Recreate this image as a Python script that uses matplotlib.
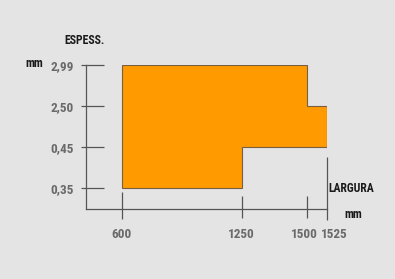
import numpy as np
import matplotlib
matplotlib.use("Agg")
import matplotlib.pyplot as plt
from matplotlib.transforms import ScaledTranslation

# valori
WIDTHS = [600, 1250, 1500, 1525]
WIDTH_LABELS = ["600", "1250", "1500", "1525"]
THICKNESSES = [0.35, 0.45, 2.50, 2.99]
THICKNESS_LABELS = ["0,35", "0,45", "2,50", "2,99"]
PROFILE_X = [600, 600, 1500, 1500, 1525, 1525, 1250, 1250]
PROFILE_Y = [0.35, 2.99, 2.99, 2.50, 2.50, 0.45, 0.45, 0.35]

# impaginazione (pixel)
W, H = 395, 279
X_LAYOUT = [0, 120, 185, 205]
Y_LAYOUT = [0, 41, 82, 123]
BG = "#e4e4e4"
ORANGE = "#ff9a00"
AXIS = "#555555"
LABEL_GREY = "#6a6a6a"
FONT = ["Roboto Condensed", "DejaVu Sans"]

plt.rcParams["font.family"] = FONT


def piecewise(v, src, dst):
    v = np.asarray(v, dtype=float)
    out = np.interp(v, src, dst)
    lo_slope = (dst[1] - dst[0]) / (src[1] - src[0])
    hi_slope = (dst[-1] - dst[-2]) / (src[-1] - src[-2])
    out = np.where(v < src[0], dst[0] + (v - src[0]) * lo_slope, out)
    out = np.where(v > src[-1], dst[-1] + (v - src[-1]) * hi_slope, out)
    return out


def fx(v):
    return piecewise(v, WIDTHS, X_LAYOUT)


def fx_inv(v):
    return piecewise(v, X_LAYOUT, WIDTHS)


def fy(v):
    return piecewise(v, THICKNESSES, Y_LAYOUT)


def fy_inv(v):
    return piecewise(v, Y_LAYOUT, THICKNESSES)


def fig_pos(x, y):
    return x / W, 1 - y / H


fig = plt.figure(figsize=(W / 100, H / 100), dpi=100, facecolor=BG)
ax_left, ax_right, ax_top, ax_bottom = 86, 327, 65, 209
ax = fig.add_axes([ax_left / W, 1 - ax_bottom / H,
                   (ax_right - ax_left) / W, (ax_bottom - ax_top) / H])
ax.set_facecolor(BG)
ax.set_xscale("function", functions=(fx, fx_inv))
ax.set_yscale("function", functions=(fy, fy_inv))
ax.set_xlim(float(fx_inv(-36)), WIDTHS[-1])
ax.set_ylim(float(fy_inv(-21)), THICKNESSES[-1])

ax.fill(PROFILE_X, PROFILE_Y, facecolor=ORANGE, edgecolor="#7a6040", linewidth=0.8, zorder=2)

for side in ["top", "right"]:
    ax.spines[side].set_visible(False)
for side in ["left", "bottom"]:
    ax.spines[side].set_color(AXIS)
    ax.spines[side].set_linewidth(0.9)

ax_w = ax_right - ax_left
ax_h = ax_bottom - ax_top

# tacche asse y
ax.hlines(THICKNESSES, -5 / ax_w, 18 / ax_w, transform=ax.get_yaxis_transform(),
          color=AXIS, linewidth=0.9, clip_on=False)
# tacche asse x (lunghezze diverse come nell'originale)
tick_up = [17, 13, 13, 52]
tick_down = [10, 9, 9, 11]
for x, up, down in zip(WIDTHS, tick_up, tick_down):
    ax.vlines(x, -down / ax_h, up / ax_h, transform=ax.get_xaxis_transform(),
              color=AXIS, linewidth=0.9, clip_on=False)

ax.set_xticks(WIDTHS, WIDTH_LABELS)
ax.set_yticks(THICKNESSES, THICKNESS_LABELS)
ax.minorticks_off()
ax.tick_params(axis="x", length=0, pad=14, labelsize=9.5, labelcolor=LABEL_GREY)
ax.tick_params(axis="y", length=0, pad=9, labelsize=9.5, labelcolor=LABEL_GREY)
for lbl in ax.get_xticklabels() + ax.get_yticklabels():
    lbl.set_fontweight("semibold")

# spostamenti orizzontali delle etichette come nell'originale
label_shift = [0, -1, -2.5, 7]
for lbl, dx in zip(ax.get_xticklabels(), label_shift):
    lbl.set_transform(lbl.get_transform() + ScaledTranslation(dx / 100, 0, fig.dpi_scale_trans))

bold = dict(fontsize=8.5, fontweight="bold", color="#1a1a1a", va="center")
fig.text(*fig_pos(85, 41), "ESPESS.", ha="center", **bold)
fig.text(*fig_pos(34, 64), "mm", ha="center", **bold)
fig.text(*fig_pos(351, 189), "LARGURA", ha="center", **bold)
fig.text(*fig_pos(353, 214), "mm", ha="center", **bold)

fig.savefig("out.png", dpi=100, facecolor=BG)
